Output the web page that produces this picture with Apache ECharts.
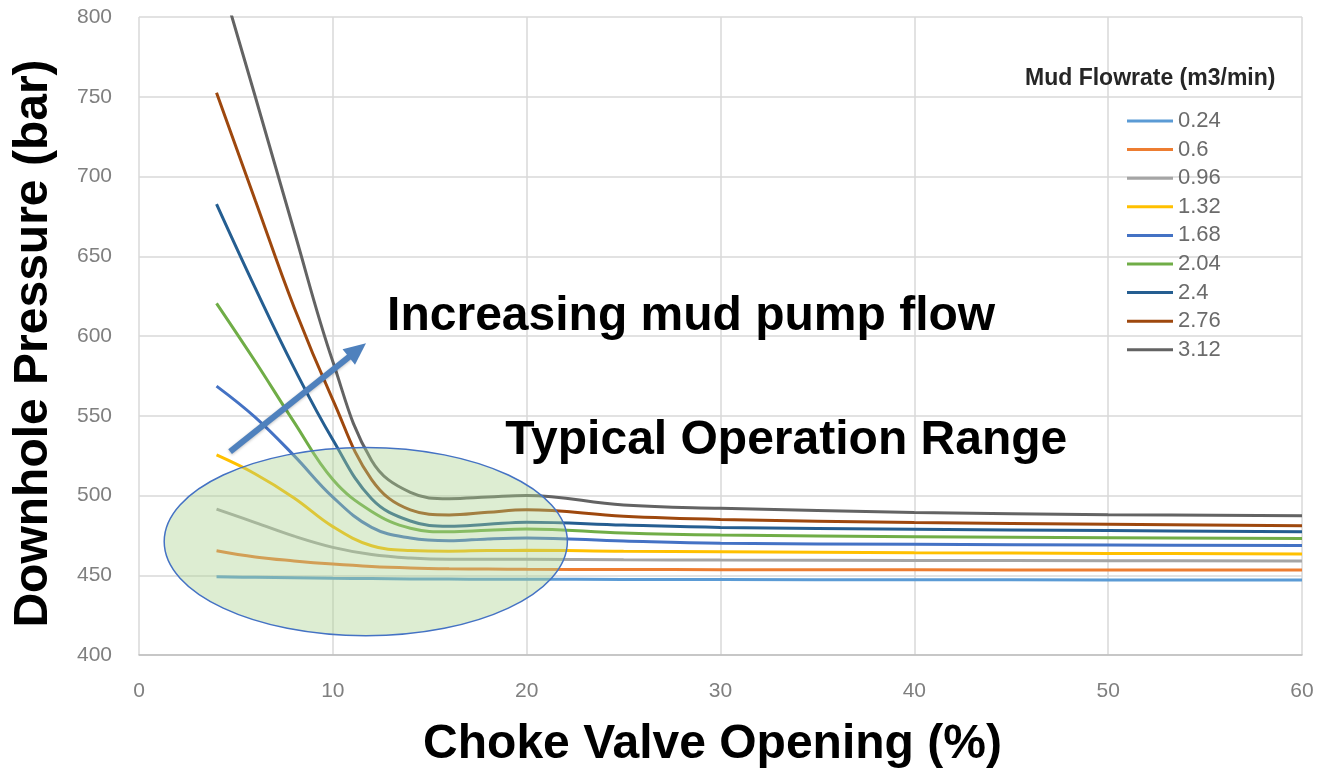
<!DOCTYPE html>
<html lang="en">
<head>
    <meta charset="UTF-8">
    <title>Downhole Pressure vs Choke Valve Opening</title>
    <script src="https://cdn.jsdelivr.net/npm/echarts@6.0.0/dist/echarts.min.js"></script>
    <style>
        html, body { margin: 0; padding: 0; background: #fff; }
        #chart { width: 1318px; height: 770px; }
    </style>
</head>
<body>
    <div id="chart"></div>
    <script>
        // choke opening (%) shared by every curve
        const openings = [4, 6, 8, 10, 12, 14, 16, 18, 20, 25, 30, 40, 50, 60];

        // mud flowrates (m3/min), legend order
        const flowrates = ['0.24', '0.6', '0.96', '1.32', '1.68', '2.04', '2.4', '2.76', '3.12'];

        // downhole pressure (bar)
        const p024 = [449, 448.7, 448.4, 448.1, 447.9, 447.7, 447.6, 447.5, 447.5, 447.4, 447.3, 447.2, 447.1, 447];
        const p060 = [465.4, 461.5, 459, 457, 455.5, 454.6, 454.1, 453.9, 453.7, 453.6, 453.5, 453.4, 453.3, 453.3];
        const p096 = [491.5, 483, 474.5, 467.5, 463, 460.8, 460, 460, 460, 459.7, 459.5, 459.3, 459.1, 459];
        const p132 = [525.4, 513.5, 498.5, 480.5, 468.5, 465.5, 465.1, 465.5, 465.6, 465, 464.8, 464.1, 463.7, 463.3];
        const p168 = [568.6, 549, 525, 499, 480, 473.3, 471.6, 472.8, 473.4, 471.5, 470, 469.4, 469, 468.6];
        const p204 = [620.5, 584, 546, 510, 490, 479.5, 477.2, 478.2, 479, 476.5, 475.2, 474.2, 473.5, 473];
        const p240 = [682.7, 630, 580, 535, 498, 484, 480.7, 482, 483.3, 481.5, 480, 478.8, 478, 477.3];
        const p276 = [752.5, 685, 618, 560, 510, 491, 487.8, 489.5, 491, 487, 485, 483, 482, 481];
        const p312 = [833, 750, 666, 584, 522, 502, 498, 499, 500, 494, 492, 489.4, 488, 487.3];

        const pressures = [p024, p060, p096, p132, p168, p204, p240, p276, p312];
        const colors = ['#5B9BD5', '#ED7D31', '#A5A5A5', '#FFC000', '#4472C4', '#70AD47', '#255E91', '#9E480E', '#636363'];

        const chart = echarts.init(document.getElementById('chart'));

        const series = flowrates.map((name, i) => ({
            name: name,
            type: 'line',
            smooth: 0.4,
            symbol: 'none',
            clip: true,
            lineStyle: { width: 3, color: colors[i] },
            itemStyle: { color: colors[i] },
            data: openings.map((x, j) => [x, pressures[i][j]])
        }));

        const tickFont = { color: '#7f7f7f', fontSize: 21, fontFamily: 'Liberation Sans' };
        const titleFont = { color: '#000', fontSize: 48, fontWeight: 'bold', fontFamily: 'Liberation Sans' };

        chart.setOption({
            animation: false,
            grid: { left: 139, right: 16, top: 17, bottom: 115, outerBoundsMode: 'none' },
            title: {
                text: 'Mud Flowrate (m3/min)',
                left: 1020,
                top: 62,
                textStyle: { color: '#262626', fontSize: 23, fontWeight: 'bold', fontFamily: 'Liberation Sans' }
            },
            legend: {
                orient: 'vertical',
                left: 1127,
                top: 110,
                padding: 0,
                itemWidth: 46,
                itemHeight: 3,
                itemGap: 6.6,
                icon: 'rect',
                textStyle: { color: '#6b6b6b', fontSize: 22, fontFamily: 'Liberation Sans' },
                data: flowrates
            },
            xAxis: {
                type: 'value',
                min: 0,
                max: 60,
                interval: 10,
                name: 'Choke Valve Opening (%)',
                nameLocation: 'middle',
                nameGap: 66,
                nameTextStyle: Object.assign({ padding: [0, 16, 0, 0] }, titleFont),
                axisLine: { show: true, lineStyle: { color: '#bfbfbf', width: 1.5 } },
                axisTick: { show: false },
                axisLabel: Object.assign({ margin: 26 }, tickFont),
                splitLine: { show: true, lineStyle: { color: '#d9d9d9', width: 1.5 } }
            },
            yAxis: {
                type: 'value',
                min: 400,
                max: 800,
                interval: 50,
                axisLine: { show: false },
                axisTick: { show: false },
                axisLabel: Object.assign({ margin: 27 }, tickFont),
                splitLine: { show: true, lineStyle: { color: '#d9d9d9', width: 1.5 } }
            },
            series: series
        });

        // annotations placed from data coordinates
        function px(x, y) {
            return chart.convertToPixel({ gridIndex: 0 }, [x, y]);
        }

        const ellC = px(11.7, 471.1);
        const ellE = px(22.1, 530.1);
        const tail = px(4.7, 527.5);
        const tip = px(11.71, 595.4);

        const ang = Math.atan2(tip[1] - tail[1], tip[0] - tail[0]);
        const headLen = 22, headW = 10;
        const base = [tip[0] - headLen * Math.cos(ang), tip[1] - headLen * Math.sin(ang)];
        const nx = -Math.sin(ang), ny = Math.cos(ang);

        const labelInc = px(12.8, 612.2);
        const labelOp = px(18.9, 534.5);

        chart.setOption({
            graphic: [
                {
                    // y axis title, a little below the plot centre as in the source
                    type: 'text',
                    x: 34,
                    y: 343.5,
                    rotation: Math.PI / 2,
                    style: {
                        text: 'Downhole Pressure (bar)',
                        fill: '#000',
                        font: 'bold 48px "Liberation Sans"',
                        align: 'center',
                        verticalAlign: 'middle'
                    }
                },
                {
                    type: 'ellipse',
                    z: 10,
                    shape: { cx: ellC[0], cy: ellC[1], rx: ellE[0] - ellC[0], ry: ellC[1] - ellE[1] },
                    style: { fill: 'rgba(169,209,142,0.4)', stroke: '#4472C4', lineWidth: 1.5 }
                },
                {
                    type: 'line',
                    z: 11,
                    shape: { x1: tail[0], y1: tail[1], x2: base[0] + 2 * Math.cos(ang), y2: base[1] + 2 * Math.sin(ang) },
                    style: { stroke: '#4F81BD', lineWidth: 6, shadowBlur: 3, shadowColor: 'rgba(0,0,0,0.25)', shadowOffsetY: 1 }
                },
                {
                    type: 'polygon',
                    z: 11,
                    shape: {
                        points: [
                            tip,
                            [base[0] + nx * headW, base[1] + ny * headW],
                            [base[0] - nx * headW, base[1] - ny * headW]
                        ]
                    },
                    style: { fill: '#4F81BD' }
                },
                {
                    type: 'text',
                    z: 12,
                    x: labelInc[0],
                    y: labelInc[1],
                    style: {
                        text: 'Increasing mud pump flow',
                        fill: '#000',
                        font: 'bold 48px "Liberation Sans"',
                        verticalAlign: 'middle'
                    }
                },
                {
                    type: 'text',
                    z: 12,
                    x: labelOp[0],
                    y: labelOp[1],
                    style: {
                        text: 'Typical Operation Range',
                        fill: '#000',
                        font: 'bold 48px "Liberation Sans"',
                        verticalAlign: 'middle'
                    }
                }
            ]
        });
    </script>
</body>
</html>
